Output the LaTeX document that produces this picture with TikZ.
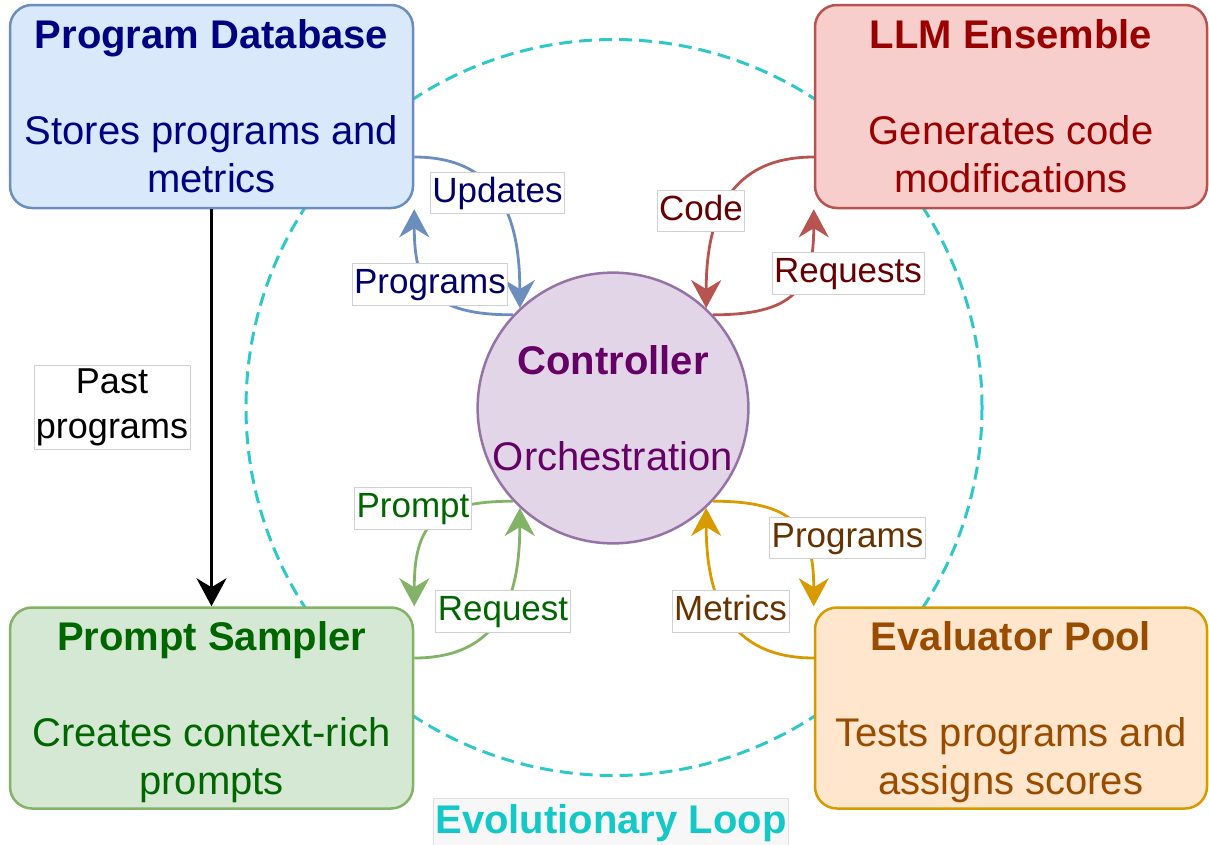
\documentclass[tikz,border=0pt]{standalone}
\usepackage{fontspec}
\setmainfont{Liberation Sans}
\usetikzlibrary{arrows.meta,calc}
\definecolor{dbfill}{HTML}{DAE8FC}\definecolor{dbline}{HTML}{6C8EBF}\definecolor{dbtext}{HTML}{000080}\definecolor{dblbl}{HTML}{000066}
\definecolor{llmfill}{HTML}{F8CECC}\definecolor{llmline}{HTML}{B85450}\definecolor{llmtext}{HTML}{990000}\definecolor{llmlbl}{HTML}{660000}
\definecolor{psfill}{HTML}{D5E8D4}\definecolor{psline}{HTML}{82B366}\definecolor{pstext}{HTML}{006600}
\definecolor{epfill}{HTML}{FFE6CC}\definecolor{epline}{HTML}{D79B00}\definecolor{eptext}{HTML}{994C00}\definecolor{eplbl}{HTML}{663300}
\definecolor{ctfill}{HTML}{E1D5E7}\definecolor{ctline}{HTML}{9673A6}\definecolor{cttext}{HTML}{660066}
\definecolor{loopcol}{HTML}{2EC8C8}\definecolor{looptext}{HTML}{14C8C8}
\definecolor{lblgray}{HTML}{D0D0D0}
\begin{document}
\begin{tikzpicture}[x=1pt,y=-1pt,
  box/.style={rectangle, rounded corners=22pt, line width=2.5pt, align=center,
    inner sep=0pt, text depth=0pt, font=\fontsize{40}{48}\selectfont},
  lbl/.style={draw=lblgray, line width=0.8pt, fill=white, inner xsep=2pt, inner ysep=4pt,
    text height=26pt, text depth=7.5pt, font=\fontsize{35}{42}\selectfont},
  conn/.style={line width=2.8pt, -{Stealth[length=28pt,width=30pt,inset=9pt]}}
]
\useasboundingbox (0,0) rectangle (1209,844);
\clip (0,0) rectangle (1209,844);

% evolutionary loop
\draw[loopcol, line width=3pt, dash pattern=on 13pt off 7pt] (614,407.5) circle[radius=368pt];

% boxes
\node[box, fill=dbfill, draw=dbline, text=dbtext, minimum width=403pt, minimum height=203pt] (db) at (211.5,106.5)
  {\textbf{Program Database}\\[48pt]Stores programs and\\metrics};
\node[box, fill=llmfill, draw=llmline, text=llmtext, minimum width=392pt, minimum height=203pt] (llm) at (1011,106.5)
  {\textbf{LLM Ensemble}\\[48pt]Generates code\\modifications};
\node[box, fill=psfill, draw=psline, text=pstext, minimum width=403pt, minimum height=201pt] (ps) at (211.5,708)
  {\textbf{Prompt Sampler}\\[48pt]Creates context-rich\\prompts};
\node[box, fill=epfill, draw=epline, text=eptext, minimum width=392pt, minimum height=201pt] (ep) at (1011,708)
  {\textbf{Evaluator Pool}\\[48pt]Tests programs and\\assigns scores};
\node[circle, fill=ctfill, draw=ctline, line width=2.5pt, text=cttext, minimum size=268pt, inner sep=0pt,
  align=center, font=\fontsize{40}{48}\selectfont] (ct) at (613,408)
  {\textbf{Controller}\\[48pt]Orchestration};

% black arrow
\draw[conn, black] (db.south) -- (ps.north);
\node[draw=lblgray, line width=0.8pt, fill=white, inner xsep=2pt, inner ysep=3pt, align=center,
  font=\fontsize{36}{45}\selectfont] (lpast) at (112,407.5) {Past\\programs};

% blue
\draw[conn, dbline] ([yshift=-50.5pt]db.east) .. controls +(85,0) and +(0,-90) .. (ct.133);
\draw[conn, dbline] (ct.137) .. controls +(-80,0) and +(0,80) .. (db.south east);
% red
\draw[conn, llmline] ([yshift=-50.5pt]llm.west) .. controls +(-85,0) and +(0,-90) .. (ct.47);
\draw[conn, llmline] (ct.43) .. controls +(80,0) and +(0,80) .. (llm.south west);
% green
\draw[conn, psline] (ct.223) .. controls +(-80,0) and +(0,-80) .. (ps.north east);
\draw[conn, psline] ([yshift=50pt]ps.east) .. controls +(85,0) and +(0,90) .. (ct.227);
% orange
\draw[conn, epline] (ct.317) .. controls +(80,0) and +(0,-80) .. (ep.north west);
\draw[conn, epline] ([yshift=50pt]ep.west) .. controls +(-85,0) and +(0,90) .. (ct.313);

% labels
\node[lbl, text=dblbl] (lupd) at (497.5,193) {Updates};
\node[lbl, text=dblbl] (lprog1) at (430,284.5) {Programs};
\node[lbl, text=llmlbl] (lcode) at (701,211) {Code};
\node[lbl, text=llmlbl] (lreq1) at (848,273.5) {Requests};
\node[lbl, text=pstext] (lprompt) at (413,508.5) {Prompt};
\node[lbl, text=pstext] (lreq2) at (503,611.5) {Request};
\node[lbl, text=eplbl] (lprog2) at (847.5,538) {Programs};
\node[lbl, text=eplbl] (lmet) at (730.5,611.5) {Metrics};

% loop title
\node[fill=black!3, draw=black!12, line width=0.8pt, inner xsep=2pt, inner ysep=6pt, text=looptext,
  font=\bfseries\fontsize{40}{48}\selectfont] (loop) at (611,823) {Evolutionary Loop};
\end{tikzpicture}
\end{document}
